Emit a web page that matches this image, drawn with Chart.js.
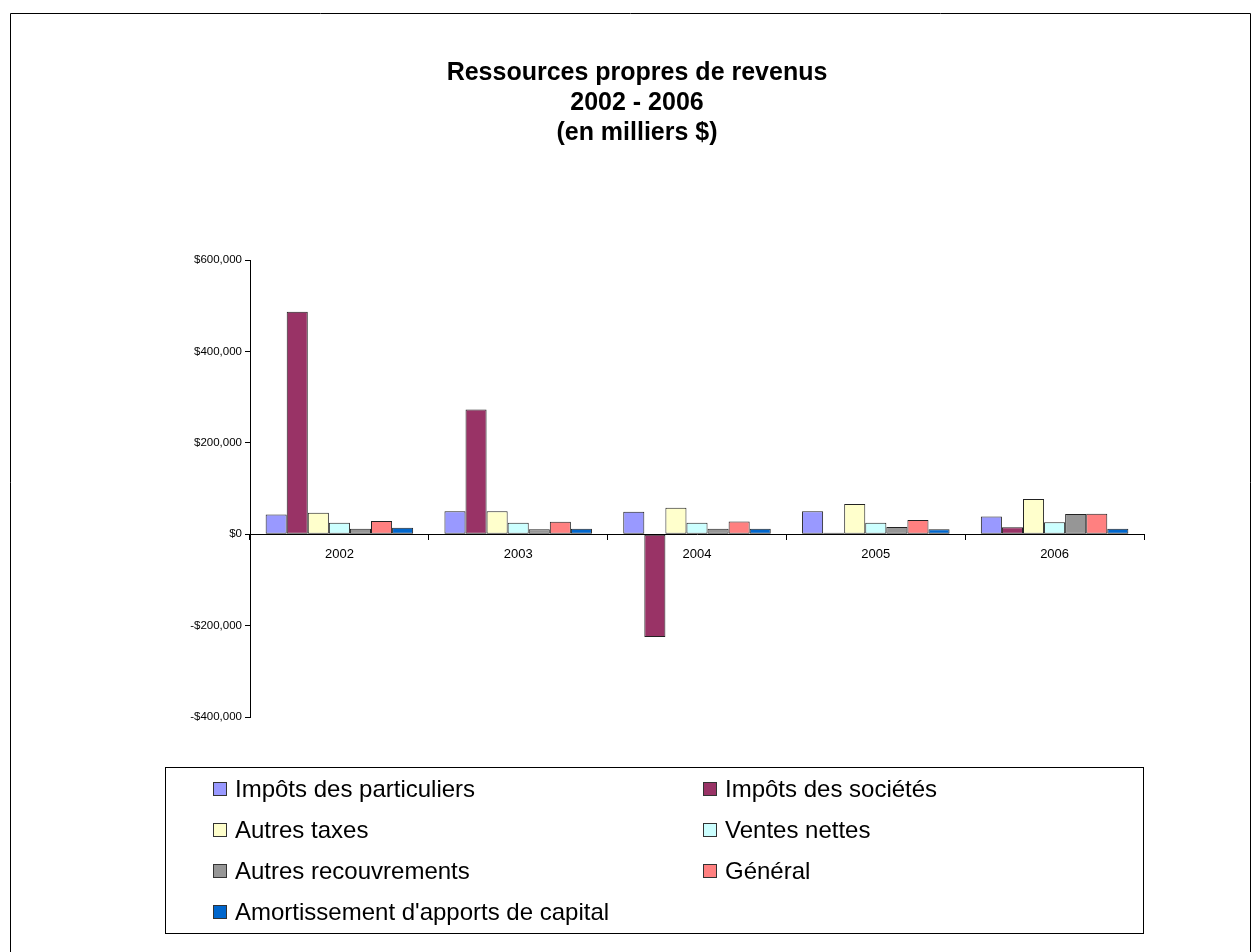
<!DOCTYPE html>
<html>
<head>
<meta charset="utf-8">
<script src="https://cdn.jsdelivr.net/npm/chart.js@4"></script>
<style>
  html, body { margin: 0; padding: 0; background: #fff; }
  canvas { display: block; }
</style>
</head>
<body>
<canvas id="chart" width="1253" height="952"></canvas>
<script>
const years = ['2002', '2003', '2004', '2005', '2006'];

const seriesNames = [
    'Impôts des particuliers',
    'Impôts des sociétés',
    'Autres taxes',
    'Ventes nettes',
    'Autres recouvrements',
    'Général',
    "Amortissement d'apports de capital"
];

// montants en milliers $
const particuliers = [43000, 50000, 49000, 50000, 39000];
const societes = [487000, 273000, -225000, 3000, 15000];
const autresTaxes = [47000, 50000, 58000, 66000, 77000];
const ventesNettes = [25000, 25000, 25000, 25000, 26000];
const recouvrements = [12000, 11000, 12000, 16000, 44000];
const general = [29000, 27000, 28000, 31000, 45000];
const amortissement = [14000, 12000, 12000, 11000, 12000];

const titleLines = ['Ressources propres de revenus', '2002 - 2006', '(en milliers $)'];

const colors = ['#9999FF', '#993366', '#FFFFCC', '#CCFFFF', '#969696', '#FF8080', '#0066CC'];
const seriesData = [particuliers, societes, autresTaxes, ventesNettes, recouvrements, general, amortissement];

const FONT = "'Liberation Sans', Arial, sans-serif";

// cadre, titre et légende dessinés à la main
const decor = {
    id: 'decor',
    afterDraw(chart) {
        const ctx = chart.ctx;
        ctx.save();

        // cadre extérieur
        ctx.strokeStyle = '#000';
        ctx.lineWidth = 1;
        ctx.beginPath();
        ctx.moveTo(10.5, 952);
        ctx.lineTo(10.5, 13.5);
        ctx.lineTo(1250.5, 13.5);
        ctx.lineTo(1250.5, 952);
        ctx.stroke();

        // titre
        ctx.fillStyle = '#000';
        ctx.font = 'bold 25px ' + FONT;
        ctx.textAlign = 'center';
        ctx.textBaseline = 'middle';
        titleLines.forEach((t, i) => ctx.fillText(t, 637, 73 + i * 30));

        // légende
        ctx.strokeStyle = '#000';
        ctx.strokeRect(165.5, 767.5, 978, 166);
        ctx.font = '24px ' + FONT;
        ctx.textAlign = 'left';
        const cols = [213, 703];
        const rows = [789, 830, 871, 912];
        chart.data.datasets.forEach((ds, i) => {
            const x = cols[i % 2];
            const y = rows[Math.floor(i / 2)];
            ctx.fillStyle = ds.backgroundColor;
            ctx.fillRect(x, y - 7, 14, 14);
            ctx.strokeStyle = '#333';
            ctx.strokeRect(x + 0.5, y - 6.5, 13, 13);
            ctx.fillStyle = '#000';
            ctx.fillText(ds.label, x + 22, y + 1);
        });
        ctx.restore();
    }
};

new Chart(document.getElementById('chart'), {
    type: 'bar',
    data: {
        labels: years,
        datasets: seriesNames.map((name, i) => ({
            label: name,
            data: seriesData[i],
            backgroundColor: colors[i],
            borderColor: '#222',
            borderWidth: 1,
            borderSkipped: false,
            categoryPercentage: 0.825,
            barPercentage: 1
        }))
    },
    options: {
        responsive: false,
        animation: false,
        layout: {
            padding: { left: 150, right: 109, top: 260, bottom: 235 }
        },
        scales: {
            x: {
                position: { y: 0 },
                grid: {
                    drawOnChartArea: false,
                    drawTicks: true,
                    tickLength: 5,
                    color: '#000'
                },
                border: { color: '#000', width: 1 },
                ticks: {
                    color: '#000',
                    padding: 7,
                    font: { family: FONT, size: 13 }
                }
            },
            y: {
                min: -400000,
                max: 600000,
                afterFit(scale) { scale.width = 100; },
                grid: {
                    drawOnChartArea: false,
                    drawTicks: true,
                    tickLength: 5,
                    color: '#000'
                },
                border: { color: '#000', width: 1 },
                ticks: {
                    stepSize: 200000,
                    color: '#000',
                    padding: 3,
                    font: { family: FONT, size: 11.5 },
                    callback: v => (v < 0 ? '-$' : '$') + Math.abs(v).toLocaleString('en-US')
                }
            }
        },
        plugins: {
            legend: { display: false },
            title: { display: false },
            tooltip: { enabled: false }
        }
    },
    plugins: [decor]
});
</script>
</body>
</html>
